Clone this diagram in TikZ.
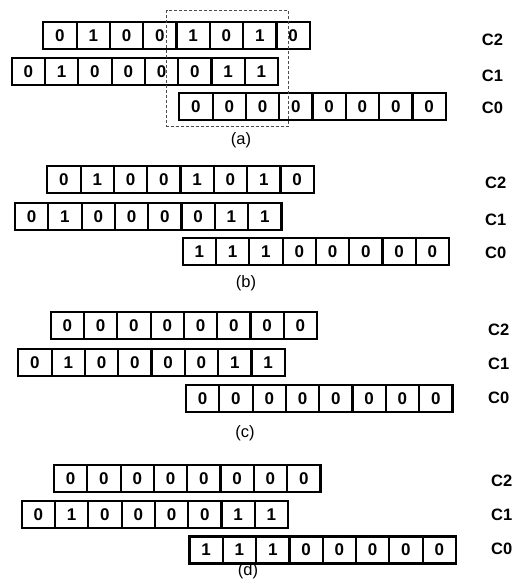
\documentclass[tikz,border=0pt]{standalone}
\usepackage{fontspec}
\setmainfont{Liberation Sans}
\begin{document}
\begin{tikzpicture}[x=1pt,y=-1pt,
  cell/.style={draw, line width=2.2pt, minimum width=33.3pt, minimum height=27pt, inner sep=0pt, font=\fontsize{17}{17}\selectfont\bfseries},
  lbl/.style={anchor=west, inner sep=0pt, font=\fontsize{16.5}{16.5}\selectfont\bfseries},
  captxt/.style={inner sep=0pt, font=\fontsize{16.5}{16.5}\selectfont},
  frame/.style={draw=black!70, dash pattern=on 3pt off 2pt, line width=0.9pt}]
\useasboundingbox (0,0) rectangle (512,579);
\newcommand\cellrow[4]{%
  \foreach \b [count=\i from 0] in {#4} {
    \node[cell] (#1-\i) at ({#2+33.3*\i+16.65},{#3+13.5}) {\b};
  }}
% (a)
\cellrow{a2}{43.3}{21.7}{0,1,0,0,1,0,1,0}
\cellrow{a1}{11.7}{58.3}{0,1,0,0,0,0,1,1}
\cellrow{a0}{179.3}{93.3}{0,0,0,0,0,0,0,0}
\draw[frame] (166.7,10) rectangle (288.3,126);
\node[lbl] (la2) at (481.7,40) {C2};
\node[lbl] (la1) at (481.7,76) {C1};
\node[lbl] (la0) at (481.7,108.3) {C0};
\node[captxt] (capa) at (241,140) {(a)};
% (b)
\cellrow{b2}{47.3}{166}{0,1,0,0,1,0,1,0}
\cellrow{b1}{15}{203.3}{0,1,0,0,0,0,1,1}
\cellrow{b0}{182.7}{238.3}{1,1,1,0,0,0,0,0}
\node[lbl] (lb2) at (485,183.3) {C2};
\node[lbl] (lb1) at (485,220) {C1};
\node[lbl] (lb0) at (485,253) {C0};
\node[captxt] (capb) at (246,283) {(b)};
% (c)
\cellrow{c2}{50.7}{312.3}{0,0,0,0,0,0,0,0}
\cellrow{c1}{18.3}{349}{0,1,0,0,0,0,1,1}
\cellrow{c0}{186}{385}{0,0,0,0,0,0,0,0}
\node[lbl] (lc2) at (488,330) {C2};
\node[lbl] (lc1) at (488,363.5) {C1};
\node[lbl] (lc0) at (488,398) {C0};
\node[captxt] (capc) at (245,433) {(c)};
% (d)
\cellrow{d2}{54}{465}{0,0,0,0,0,0,0,0}
\cellrow{d1}{21.7}{501}{0,1,0,0,0,0,1,1}
\cellrow{d0}{189.5}{536.5}{1,1,1,0,0,0,0,0}
\node[lbl] (ld2) at (491,481) {C2};
\node[lbl] (ld1) at (491,515) {C1};
\node[lbl] (ld0) at (491,549) {C0};
\node[captxt] (capd) at (248,571) {(d)};
\end{tikzpicture}
\end{document}
